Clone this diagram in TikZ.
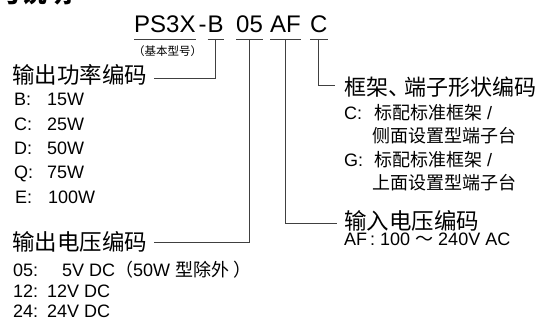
\documentclass[tikz,border=0pt]{standalone}
\usepackage{fontspec}
\setmainfont{Liberation Sans}
\newfontfamily\cjk{Noto Sans CJK SC}
\tikzset{
  code/.style={anchor=base west, inner sep=0pt, font=\fontsize{24}{28}\selectfont},
  biglbl/.style={anchor=base west, inner sep=0pt, font=\cjk\fontsize{22.5}{26}\selectfont},
  small/.style={anchor=base west, inner sep=0pt, font=\fontsize{18}{22}\selectfont},
  smallcjk/.style={anchor=base west, inner sep=0pt, font=\cjk\fontsize{18}{22}\selectfont},
  tiny/.style={anchor=base west, inner sep=0pt, font=\cjk\fontsize{11.5}{14}\selectfont},
  conn/.style={draw=black!75, line width=0.9pt},
}
\begin{document}
\begin{tikzpicture}[x=1pt, y=-1pt]
\useasboundingbox (0,0) rectangle (539,323);
% clipped title
\node[anchor=base west, inner sep=0pt, font=\cjk\bfseries\fontsize{25}{30}\selectfont] (title) at (-28,3) {型号说明};
% code
\node[code] (ps) at (134,33) {PS3X};
\node[code] (B) at (207.5,33) {B};
\node[code, anchor=base east] (dash) at ([xshift=-0.6pt]B.base west) {-};
\node[code] (v05) at (236,33) {05};
\node[code] (af) at (270,33) {AF};
\node[code] (c) at (310,33) {C};
\node[tiny] (basic) at (133,56) {（基本型号）};
% labels
\node[biglbl] (pow) at (12,84) {输出功率编码};
\node[biglbl] (outv) at (12,251) {输出电压编码};
\node[biglbl, font=\cjk\fontsize{22}{26}\selectfont] (frame) at (344,96) {框架、\kern-6pt 端子形状编码};
\node[biglbl] (inv) at (344,229.5) {输入电压编码};
% power list
\node[small] (kB) at (14,106) {B:};   \node[small] (vB) at (47,106) {15W};
\node[small] (kC) at (14,130.5) {C:}; \node[small] (vC) at (47,130.5) {25W};
\node[small] (kD) at (14,155) {D:};   \node[small] (vD) at (47,155) {50W};
\node[small] (kQ) at (14,179) {Q:};   \node[small] (vQ) at (47,179) {75W};
\node[small] (kE) at (15,203.5) {E:}; \node[small] (vE) at (48,203.5) {100W};
% output voltage list
\node[small] (k05) at (13,277) {05:}; \node[small] (o05) at (62,277) {5V DC{\cjk （}50W {\cjk 型除外 ）}};
\node[small] (k12) at (13,297.5) {12:}; \node[small] (o12) at (47,297.5) {12V DC};
\node[small] (k24) at (13,318) {24:}; \node[small] (o24) at (47,318) {24V DC};
% frame list
\node[small] (kFC) at (344,120) {C:}; \node[small] (fC1) at (374,120) {{\cjk 标配标准框架} /};
\node[smallcjk] (fC2) at (372,143) {侧面设置型端子台};
\node[small] (kFG) at (344,167) {G:}; \node[small] (fG1) at (374,167) {{\cjk 标配标准框架} /};
\node[smallcjk] (fG2) at (372,190) {上面设置型端子台};
% input voltage
\node[small] (kAF) at (344,246) {AF\,:}; \node[small] (vAF) at (380,246) {100 {\cjk ～} 240V AC};
% underlines
\draw[conn] ([yshift=-6pt]ps.base west) -- ([yshift=-6pt]ps.base east);
\draw[conn] ([yshift=-6pt]B.base west) -- ([yshift=-6pt]B.base east);
\draw[conn] ([yshift=-6pt]v05.base west) -- ([yshift=-6pt]v05.base east);
\draw[conn] ([yshift=-6pt]af.base west) -- ([yshift=-6pt]af.base east);
\draw[conn] ([yshift=-6pt]c.base west) -- ([yshift=-6pt]c.base east);
% connectors
\draw[conn] ([yshift=-6pt]B.base) |- ([xshift=7pt,yshift=6pt]pow.base east);
\draw[conn] ([yshift=-6pt]v05.base) |- ([xshift=7pt,yshift=9pt]outv.base east);
\draw[conn] ([yshift=-6pt]af.base) |- ([xshift=-7pt,yshift=6.5pt]inv.base west);
\draw[conn] ([yshift=-6pt]c.base) |- ([xshift=-9pt,yshift=10.5pt]frame.base west);
\end{tikzpicture}
\end{document}
